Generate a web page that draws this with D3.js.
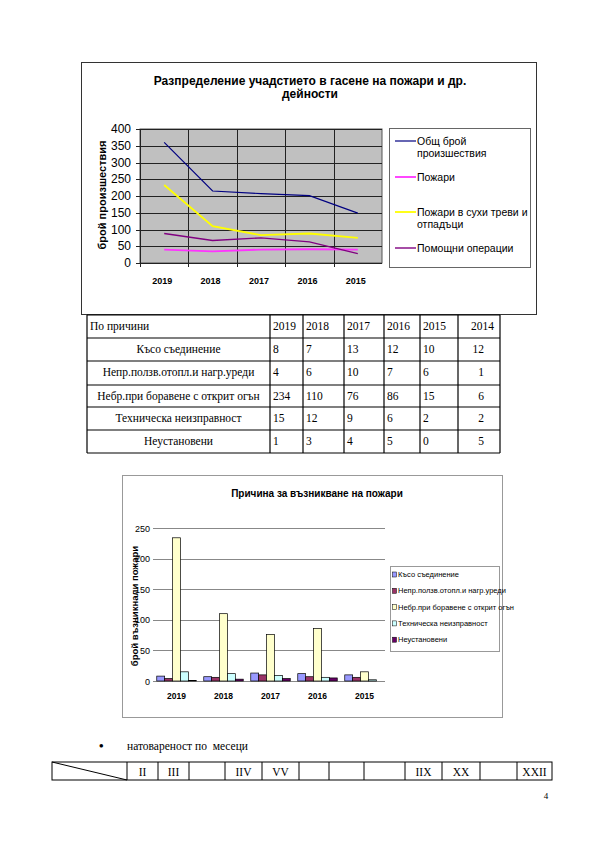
<!DOCTYPE html>
<html>
<head>
<meta charset="utf-8">
<script src="https://cdnjs.cloudflare.com/ajax/libs/d3/7.8.5/d3.min.js"></script>
<style>
  body { margin: 0; background: #fff; }
  svg { display: block; }
</style>
</head>
<body>
<svg width="600" height="848"></svg>
<script>
// line chart data
var lineYears = ['2019', '2018', '2017', '2016', '2015'];
var totalIncidents = [360, 215, 207, 201, 149];
var fires = [40, 35, 40, 41, 40];
var dryGrassFires = [233, 110, 83, 88, 75];
var assistOps = [88, 67, 75, 63, 28];
var lineTicks = [0, 50, 100, 150, 200, 250, 300, 350, 400];

// table / bar chart data
var tableYears = ['2019', '2018', '2017', '2016', '2015', '2014'];
var causes = ['Късо съединение', 'Непр.ползв.отопл.и нагр.уреди', 'Небр.при боравене с открит огън', 'Техническа неизправност', 'Неустановени'];
var shortCircuit = [8, 7, 13, 12, 10, 12];
var heaters = [4, 6, 10, 7, 6, 1];
var openFire = [234, 110, 76, 86, 15, 6];
var technical = [15, 12, 9, 6, 2, 2];
var unknown = [1, 3, 4, 5, 0, 5];
var barYears = ['2019', '2018', '2017', '2016', '2015'];
var barLegend = ['Късо съединение', 'Непр.ползв.отопл.и  нагр.уреди', 'Небр.при боравене с открит огън', 'Техническа неизправност', 'Неустановени'];
var barTicks = [0, 50, 100, 150, 200, 250];

// months row
var monthLabels = ['', 'II', 'III', '', 'IIV', 'VV', '', '', '', 'IIX', 'XX', '', 'XXII'];

var svg = d3.select('svg');
var sans = 'Liberation Sans, Arial, sans-serif';
var serif = 'Liberation Serif, Times New Roman, serif';

// ---------- top line chart ----------
svg.append('rect')
  .attr('x', 81.5).attr('y', 62.5).attr('width', 455).attr('height', 252)
  .attr('fill', '#fff').attr('stroke', '#333').attr('stroke-width', 1);

svg.append('text')
  .attr('x', 310).attr('y', 85)
  .attr('text-anchor', 'middle')
  .style('font', 'bold 12px ' + sans)
  .text('Разпределение учадстието в гасене на пожари и др.');
svg.append('text')
  .attr('x', 310).attr('y', 98)
  .attr('text-anchor', 'middle')
  .style('font', 'bold 12px ' + sans)
  .text('дейности');

var lx = d3.scaleBand().domain(lineYears).range([140, 382]);
var ly = d3.scaleLinear().domain([0, 400]).range([263, 129]);

var lineG = svg.append('g');
lineG.append('rect')
  .attr('x', 140).attr('y', 129).attr('width', 242).attr('height', 134)
  .attr('fill', '#c0c0c0').attr('stroke', '#555');

lineG.selectAll('line.hgrid').data(lineTicks).enter().append('line')
  .attr('class', 'hgrid')
  .attr('x1', 136).attr('x2', 382)
  .attr('y1', function(d) { return Math.round(ly(d)) + 0.5; })
  .attr('y2', function(d) { return Math.round(ly(d)) + 0.5; })
  .attr('stroke', '#222').attr('stroke-width', 1);

lineG.selectAll('line.vgrid').data(lineYears.slice(1)).enter().append('line')
  .attr('class', 'vgrid')
  .attr('x1', function(d) { return Math.round(lx(d)) + 0.5; })
  .attr('x2', function(d) { return Math.round(lx(d)) + 0.5; })
  .attr('y1', 129).attr('y2', 267)
  .attr('stroke', '#222').attr('stroke-width', 1);

lineG.append('line')
  .attr('x1', 140.5).attr('x2', 140.5).attr('y1', 129).attr('y2', 267)
  .attr('stroke', '#222');

lineG.selectAll('text.ytick').data(lineTicks).enter().append('text')
  .attr('class', 'ytick')
  .attr('x', 131).attr('y', function(d) { return ly(d) + 4; })
  .attr('text-anchor', 'end')
  .style('font', '12px ' + sans)
  .text(function(d) { return d; });

lineG.selectAll('text.xtick').data(lineYears).enter().append('text')
  .attr('class', 'xtick')
  .attr('x', function(d) { return lx(d) + lx.bandwidth() / 2 - 2; })
  .attr('y', 284)
  .attr('text-anchor', 'middle')
  .style('font', 'bold 9px ' + sans)
  .text(function(d) { return d; });

lineG.append('text')
  .attr('transform', 'translate(106,195) rotate(-90)')
  .attr('text-anchor', 'middle')
  .style('font', 'bold 11px ' + sans)
  .text('брой произшествия');

var lineSeries = [
  { vals: totalIncidents, color: '#000080', w: 1.2 },
  { vals: fires, color: '#ff33ff', w: 1.8 },
  { vals: dryGrassFires, color: '#ffff00', w: 1.8 },
  { vals: assistOps, color: '#800080', w: 1.4 }
];
var lineGen = d3.line()
  .x(function(d, i) { return lx(lineYears[i]) + lx.bandwidth() / 2; })
  .y(function(d) { return ly(d); });

lineG.selectAll('path.series').data(lineSeries).enter().append('path')
  .attr('class', 'series')
  .attr('d', function(s) { return lineGen(s.vals); })
  .attr('fill', 'none')
  .attr('stroke', function(s) { return s.color; })
  .attr('stroke-width', function(s) { return s.w; });

// legend
lineG.append('rect')
  .attr('x', 389.5).attr('y', 128.5).attr('width', 141).attr('height', 139)
  .attr('fill', '#fff').attr('stroke', '#666');
var legendRows = [
  { lines: ['Общ брой', 'произшествия'], y: 145 },
  { lines: ['Пожари'], y: 181 },
  { lines: ['Пожари в сухи треви и', 'отпадъци'], y: 216 },
  { lines: ['Помощни операции'], y: 252 }
];
legendRows.forEach(function(row, i) {
  lineG.append('line')
    .attr('x1', 395).attr('x2', 416)
    .attr('y1', row.y - 4).attr('y2', row.y - 4)
    .attr('stroke', lineSeries[i].color)
    .attr('stroke-width', lineSeries[i].w);
  row.lines.forEach(function(t, j) {
    lineG.append('text')
      .attr('x', 417).attr('y', row.y + j * 12)
      .style('font', '10.5px ' + sans)
      .text(t);
  });
});

// ---------- cause table ----------
var colX = [87, 270, 303, 344, 384, 420, 458, 500];
var rowY = [315, 338, 361, 385, 407, 430, 453];
var tbl = svg.append('g');
var tableRows = [shortCircuit, heaters, openFire, technical, unknown];

rowY.forEach(function(y) {
  tbl.append('line').attr('x1', colX[0]).attr('x2', colX[colX.length - 1])
    .attr('y1', y).attr('y2', y).attr('stroke', '#000').attr('stroke-width', 1.2);
});
colX.forEach(function(x) {
  tbl.append('line').attr('x1', x).attr('x2', x)
    .attr('y1', rowY[0]).attr('y2', rowY[rowY.length - 1]).attr('stroke', '#000').attr('stroke-width', 1.2);
});

tbl.append('text')
  .attr('x', colX[0] + 3).attr('y', rowY[0] + 15)
  .style('font', '11.5px ' + serif)
  .text('По причини');
tableYears.forEach(function(yr, i) {
  var last = i === tableYears.length - 1;
  tbl.append('text')
    .attr('x', last ? colX[i + 2] - 6 : colX[i + 1] + 3)
    .attr('y', rowY[0] + 15)
    .attr('text-anchor', last ? 'end' : 'start')
    .style('font', '11.5px ' + serif)
    .text(yr);
});
causes.forEach(function(c, r) {
  tbl.append('text')
    .attr('x', (colX[0] + colX[1]) / 2).attr('y', rowY[r + 1] + 15)
    .attr('text-anchor', 'middle')
    .style('font', '11.5px ' + serif)
    .text(c);
  tableRows[r].forEach(function(v, i) {
    var last = i === tableYears.length - 1;
    tbl.append('text')
      .attr('x', last ? colX[i + 2] - 16 : colX[i + 1] + 3)
      .attr('y', rowY[r + 1] + 15)
      .attr('text-anchor', last ? 'end' : 'start')
      .style('font', '11.5px ' + serif)
      .text(v);
  });
});

// ---------- bar chart ----------
svg.append('rect')
  .attr('x', 122.5).attr('y', 475.5).attr('width', 380).attr('height', 242)
  .attr('fill', '#fff').attr('stroke', '#999');

svg.append('text')
  .attr('x', 317).attr('y', 497)
  .attr('text-anchor', 'middle')
  .style('font', 'bold 10px ' + sans)
  .text('Причина за възникване на пожари');

var bx = d3.scaleBand().domain(barYears).range([153, 388]).paddingInner(0.16).paddingOuter(0.08);
var by = d3.scaleLinear().domain([0, 250]).range([681, 528]);
var bColors = ['#9999ff', '#993366', '#ffffcc', '#ccffff', '#660066'];
var bSeries = [shortCircuit, heaters, openFire, technical, unknown];
var bInner = d3.scaleBand().domain(d3.range(bSeries.length)).range([0, bx.bandwidth()]);

var bot = svg.append('g');
bot.selectAll('line.grid').data(barTicks).enter().append('line')
  .attr('class', 'grid')
  .attr('x1', 153).attr('x2', 385)
  .attr('y1', function(d) { return Math.round(by(d)) + 0.5; })
  .attr('y2', function(d) { return Math.round(by(d)) + 0.5; })
  .attr('stroke', '#888').attr('stroke-width', 1);

bot.selectAll('text.ytick').data(barTicks).enter().append('text')
  .attr('class', 'ytick')
  .attr('x', 150).attr('y', function(d) { return by(d) + 3.5; })
  .attr('text-anchor', 'end')
  .style('font', '9px ' + sans)
  .text(function(d) { return d; });

bot.append('text')
  .attr('transform', 'translate(138,606) rotate(-90)')
  .attr('text-anchor', 'middle')
  .style('font', 'bold 9.5px ' + sans)
  .text('брой възникнали пожари');

bSeries.forEach(function(vals, s) {
  bot.selectAll('rect.s' + s).data(barYears).enter().append('rect')
    .attr('class', 's' + s)
    .attr('x', function(d) { return bx(d) + bInner(s); })
    .attr('y', function(d, i) { return by(vals[i]); })
    .attr('width', bInner.bandwidth())
    .attr('height', function(d, i) { return by(0) - by(vals[i]); })
    .attr('fill', bColors[s])
    .attr('stroke', '#000').attr('stroke-width', 0.7);
});

bot.selectAll('text.xtick').data(barYears).enter().append('text')
  .attr('class', 'xtick')
  .attr('x', function(d) { return bx(d) + bx.bandwidth() / 2; })
  .attr('y', 699)
  .attr('text-anchor', 'middle')
  .style('font', 'bold 8.5px ' + sans)
  .text(function(d) { return d; });

bot.append('rect')
  .attr('x', 390.5).attr('y', 566.5).attr('width', 109).attr('height', 85)
  .attr('fill', '#fff').attr('stroke', '#999');
barLegend.forEach(function(name, i) {
  var y = 574 + i * 16.3;
  bot.append('rect')
    .attr('x', 392.5).attr('y', y - 2).attr('width', 4).attr('height', 5)
    .attr('fill', bColors[i]).attr('stroke', '#000').attr('stroke-width', 0.5);
  bot.append('text')
    .attr('x', 398).attr('y', y + 3)
    .style('font', '7.5px ' + sans)
    .text(name);
});

// ---------- months row ----------
svg.append('text')
  .attr('x', 99).attr('y', 750)
  .style('font', 'bold 13px ' + serif)
  .text('•');
svg.append('text')
  .attr('x', 127).attr('y', 750)
  .style('font', '11.5px ' + serif)
  .style('white-space', 'pre')
  .text('натовареност по  месеци');

var mX = [52, 127, 158, 189, 225, 262, 299, 329, 364, 405, 442, 480, 517, 552];
var mTop = 762, mBot = 780;
var months = svg.append('g');
months.append('rect')
  .attr('x', mX[0]).attr('y', mTop).attr('width', mX[mX.length - 1] - mX[0]).attr('height', mBot - mTop)
  .attr('fill', 'none').attr('stroke', '#000').attr('stroke-width', 1);
mX.slice(1, -1).forEach(function(x) {
  months.append('line').attr('x1', x).attr('x2', x).attr('y1', mTop).attr('y2', mBot)
    .attr('stroke', '#000').attr('stroke-width', 1);
});
months.append('line').attr('x1', mX[0]).attr('y1', mTop).attr('x2', mX[1]).attr('y2', mBot)
  .attr('stroke', '#000').attr('stroke-width', 1);
monthLabels.forEach(function(m, i) {
  if (!m) return;
  months.append('text')
    .attr('x', (mX[i] + mX[i + 1]) / 2).attr('y', mBot - 4)
    .attr('text-anchor', 'middle')
    .style('font', '11.5px ' + serif)
    .text(m);
});

svg.append('text')
  .attr('x', 546).attr('y', 799)
  .attr('text-anchor', 'middle')
  .attr('fill', '#000')
  .style('font', '9px ' + serif)
  .text('4');
</script>
</body>
</html>
